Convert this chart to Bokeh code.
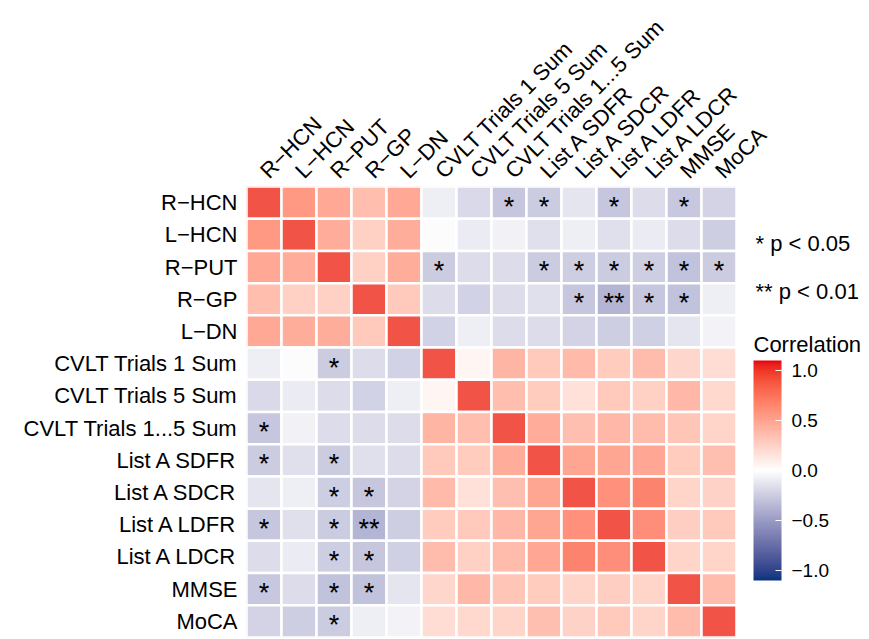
import numpy as np
from bokeh.plotting import figure
from bokeh.models import (ColumnDataSource, LinearColorMapper, ColorBar, FixedTicker,
                          CustomJSTickFormatter, Range1d)
from bokeh.embed import file_html
from bokeh.resources import INLINE
from bokeh.core.properties import value

labels = ["R−HCN", "L−HCN", "R−PUT", "R−GP", "L−DN",
          "CVLT Trials 1 Sum", "CVLT Trials 5 Sum", "CVLT Trials 1...5 Sum",
          "List A SDFR", "List A SDCR", "List A LDFR", "List A LDCR", "MMSE", "MoCA"]

corr = [
    [1.00, 0.65, 0.55, 0.42, 0.55, -0.10, -0.22, -0.33, -0.30, -0.15, -0.33, -0.20, -0.32, -0.25],
    [0.65, 1.00, 0.53, 0.30, 0.52, -0.01, -0.12, -0.08, -0.18, -0.10, -0.18, -0.12, -0.20, -0.28],
    [0.55, 0.53, 1.00, 0.30, 0.52, -0.30, -0.20, -0.20, -0.30, -0.28, -0.30, -0.28, -0.36, -0.30],
    [0.42, 0.30, 0.30, 1.00, 0.35, -0.20, -0.26, -0.20, -0.18, -0.33, -0.43, -0.33, -0.36, -0.10],
    [0.55, 0.52, 0.52, 0.35, 1.00, -0.26, -0.10, -0.20, -0.20, -0.25, -0.28, -0.27, -0.15, -0.07],
    [-0.10, -0.01, -0.30, -0.20, -0.26, 1.00, 0.06, 0.48, 0.35, 0.44, 0.33, 0.43, 0.26, 0.22],
    [-0.22, -0.12, -0.20, -0.26, -0.10, 0.06, 1.00, 0.42, 0.33, 0.19, 0.35, 0.30, 0.45, 0.25],
    [-0.33, -0.08, -0.20, -0.20, -0.20, 0.48, 0.42, 1.00, 0.53, 0.41, 0.45, 0.43, 0.37, 0.28],
    [-0.30, -0.18, -0.30, -0.18, -0.20, 0.35, 0.33, 0.53, 1.00, 0.57, 0.57, 0.56, 0.33, 0.41],
    [-0.15, -0.10, -0.28, -0.33, -0.25, 0.44, 0.19, 0.41, 0.57, 1.00, 0.70, 0.77, 0.27, 0.29],
    [-0.33, -0.18, -0.30, -0.43, -0.28, 0.33, 0.35, 0.45, 0.57, 0.70, 1.00, 0.72, 0.31, 0.35],
    [-0.20, -0.12, -0.28, -0.33, -0.27, 0.43, 0.30, 0.43, 0.56, 0.77, 0.72, 1.00, 0.28, 0.27],
    [-0.32, -0.20, -0.36, -0.36, -0.15, 0.26, 0.45, 0.37, 0.33, 0.27, 0.31, 0.28, 1.00, 0.43],
    [-0.25, -0.28, -0.30, -0.10, -0.07, 0.22, 0.25, 0.28, 0.41, 0.29, 0.35, 0.27, 0.43, 1.00],
]

# significance marks (mirrored across the diagonal)
sig_pairs = [
    ("R−HCN", "CVLT Trials 1...5 Sum", "*"), ("R−HCN", "List A SDFR", "*"),
    ("R−HCN", "List A LDFR", "*"), ("R−HCN", "MMSE", "*"),
    ("R−PUT", "CVLT Trials 1 Sum", "*"), ("R−PUT", "List A SDFR", "*"),
    ("R−PUT", "List A SDCR", "*"), ("R−PUT", "List A LDFR", "*"),
    ("R−PUT", "List A LDCR", "*"), ("R−PUT", "MMSE", "*"), ("R−PUT", "MoCA", "*"),
    ("R−GP", "List A SDCR", "*"), ("R−GP", "List A LDFR", "**"),
    ("R−GP", "List A LDCR", "*"), ("R−GP", "MMSE", "*"),
]

legend_texts = ["* p < 0.05", "** p < 0.01"]
cbar_title = "Correlation"
cbar_ticks = [-1.0, -0.5, 0.0, 0.5, 1.0]

FONT = "Liberation Sans"

# ---- diverging palette interpolated in CIE Lab (like ggplot's gradient2) ----
def _to_lab(rgb):
    c = np.array(rgb, dtype=float) / 255.0
    c = np.where(c <= 0.04045, c / 12.92, ((c + 0.055) / 1.055) ** 2.4)
    M = np.array([[0.4124, 0.3576, 0.1805], [0.2126, 0.7152, 0.0722], [0.0193, 0.1192, 0.9505]])
    xyz = M @ c / np.array([0.95047, 1.0, 1.08883])
    f = np.where(xyz > 0.008856, np.cbrt(xyz), 7.787 * xyz + 16 / 116)
    return np.array([116 * f[1] - 16, 500 * (f[0] - f[1]), 200 * (f[1] - f[2])])

def _from_lab(lab):
    L, a, b = lab
    fy = (L + 16) / 116
    fx = fy + a / 500
    fz = fy - b / 200
    f = np.array([fx, fy, fz])
    xyz = np.where(f ** 3 > 0.008856, f ** 3, (f - 16 / 116) / 7.787) * np.array([0.95047, 1.0, 1.08883])
    Mi = np.array([[3.2406, -1.5372, -0.4986], [-0.9689, 1.8758, 0.0415], [0.0557, -0.2040, 1.0570]])
    c = np.clip(Mi @ xyz, 0, 1)
    c = np.where(c <= 0.0031308, 12.92 * c, 1.055 * c ** (1 / 2.4) - 0.055)
    r, g, bb = (np.clip(c, 0, 1) * 255).round().astype(int)
    return "#%02x%02x%02x" % (r, g, bb)

low_c, mid_c, high_c = (6, 52, 128), (255, 255, 255), (232, 0, 18)
LIM = 1.1
lab_lo, lab_mid, lab_hi = _to_lab(low_c), _to_lab(mid_c), _to_lab(high_c)
palette = []
for v in np.linspace(-LIM, LIM, 256):
    t = abs(v) / LIM
    end = lab_lo if v < 0 else lab_hi
    palette.append(_from_lab(lab_mid + (end - lab_mid) * t))

mapper = LinearColorMapper(palette=palette, low=-LIM, high=LIM)

n = len(labels)
idx = {name: k for k, name in enumerate(labels)}

# cell centres: column j -> x = j + 0.5 ; row i (from top) -> y = n - i - 0.5
xs, ys, rs = [], [], []
for i, rn in enumerate(labels):
    for j, cn in enumerate(labels):
        xs.append(j + 0.5)
        ys.append(n - i - 0.5)
        rs.append(corr[i][j])
src = ColumnDataSource(dict(x=xs, y=ys, r=rs))

sx, sy, st = [], [], []
for a, b, m in sig_pairs:
    ia, ib = idx[a], idx[b]
    sx += [ib + 0.5, ia + 0.5]
    sy += [n - ia - 0.5, n - ib - 0.5]
    st += [m, m]
sig_src = ColumnDataSource(dict(x=sx, y=sy, t=st))

W, H = 869, 639
LEFT, TOP, BOTTOM = 246, 186, 2
CELL_W = 35.0
frame_w = W - LEFT
p = figure(width=W, height=H,
           x_range=Range1d(0, frame_w / CELL_W), y_range=Range1d(0, n),
           x_axis_location="above", toolbar_location=None, output_backend="svg",
           min_border_left=LEFT, min_border_right=0, min_border_top=TOP, min_border_bottom=BOTTOM)

p.rect(x="x", y="y", width=1, height=1, source=src,
       fill_color={"field": "r", "transform": mapper}, fill_alpha=0.85,
       line_color="white", line_width=2.5)

p.text(x="x", y="y", text="t", source=sig_src, text_font=value(FONT),
       text_font_size="27px", text_align="center", text_baseline="middle",
       text_color="black", y_offset=4)

# legend for the significance marks and the colour-bar title (plain text glyphs)
row_h = (H - TOP - BOTTOM) / n
leg_src = ColumnDataSource(dict(
    x=[(755 - LEFT) / CELL_W] * 2,
    y=[(H - BOTTOM - 243) / row_h, (H - BOTTOM - 291) / row_h],
    t=legend_texts))
p.text(x="x", y="y", text="t", source=leg_src, text_font=value(FONT),
       text_font_size="22px", text_align="left", text_baseline="middle", text_color="black")
p.text(x=[(753 - LEFT) / CELL_W], y=[(H - BOTTOM - 344) / row_h], text=[cbar_title],
       text_font=value(FONT), text_font_size="22px", text_align="left",
       text_baseline="alphabetic", text_color="black")

p.grid.visible = False
p.outline_line_color = None
p.xaxis.ticker = FixedTicker(ticks=[k + 0.5 for k in range(n)])
p.yaxis.ticker = FixedTicker(ticks=[k + 0.5 for k in range(n)])
p.xaxis.formatter = CustomJSTickFormatter(args=dict(labs=labels),
                                          code="return labs[Math.floor(tick)] || '';")
p.yaxis.formatter = CustomJSTickFormatter(args=dict(labs=labels[::-1]),
                                          code="return labs[Math.floor(tick)] || '';")
for ax in (p.xaxis, p.yaxis):
    ax.axis_line_color = None
    ax.major_tick_line_color = None
    ax.minor_tick_line_color = None
    ax.major_tick_out = 0
    ax.major_tick_in = 0
    ax.minor_tick_out = 0
    ax.major_label_text_font = FONT
    ax.major_label_text_font_size = "22px"
    ax.major_label_text_color = "black"
p.yaxis.major_label_standoff = 9
p.xaxis.major_label_standoff = 12
p.xaxis.major_label_orientation = np.pi / 4

cb = ColorBar(color_mapper=mapper, ticker=FixedTicker(ticks=cbar_ticks),
              formatter=CustomJSTickFormatter(code="return (tick < 0 ? '\\u2212' : '') + Math.abs(tick).toFixed(1);"),
              width=28, height=220, location=(753 - LEFT, H - BOTTOM - 580), padding=0,
              major_label_text_font=FONT, major_label_text_font_size="19px",
              major_label_text_color="black", label_standoff=10,
              major_tick_line_color="white", major_tick_in=6, major_tick_out=0,
              minor_tick_line_color=None, bar_line_color=None,
              background_fill_alpha=0, border_line_color=None)
p.add_layout(cb, "center")

open("out.html", "w").write(file_html(p, INLINE))
